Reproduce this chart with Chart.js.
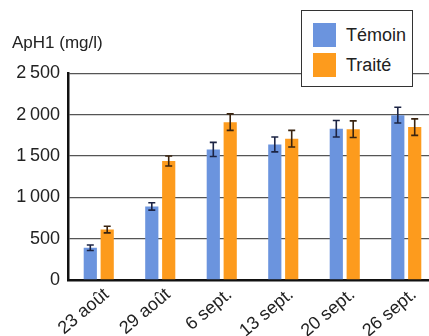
<!DOCTYPE html>
<html>
<head>
<meta charset="utf-8">
<script src="https://cdn.jsdelivr.net/npm/chart.js@4/dist/chart.umd.min.js"></script>
<style>
  html, body { margin: 0; padding: 0; background: #fff; overflow: hidden; }
  #wrap { position: relative; width: 440px; height: 336px; }
  #legend { position: absolute; left: 301px; top: 10px; width: 110px; height: 75px; border: 1px solid #333; background: #fff;
            font-family: "Liberation Sans", Arial, sans-serif; font-size: 18px; color: #222; }
  .item { position: absolute; left: 11px; height: 24px; }
  .sw { position: absolute; left: 0; top: 0; width: 23px; height: 24px; }
  .lb { position: absolute; left: 33px; top: 1px; white-space: nowrap; line-height: 22px; }
</style>
</head>
<body>
<div id="wrap">
  <canvas id="c" width="440" height="336"></canvas>
  <div id="legend"></div>
</div>
<script>
const categories = ["23 août", "29 août", "6 sept.", "13 sept.", "20 sept.", "26 sept."];
const seriesNames = ["Témoin", "Traité"];
const temoin = [390, 890, 1580, 1640, 1830, 1995];
const temoinErr = [33, 45, 85, 90, 100, 95];
const traite = [610, 1440, 1910, 1710, 1825, 1850];
const traiteErr = [40, 60, 100, 100, 100, 100];
const yTicks = [0, 500, 1000, 1500, 2000, 2500];
const yTitle = "ApH1 (mg/l)";

const colors = ["#6b94de", "#fd9b1d"];
const errColors = ["#1c2444", "#3a2410"];
const FONT = '"Liberation Sans", Arial, sans-serif';

const errorBars = {
  id: 'errorBars',
  afterDatasetsDraw(chart) {
    const ctx = chart.ctx;
    const ys = chart.scales.y;
    const errs = [temoinErr, traiteErr];
    chart.data.datasets.forEach((ds, di) => {
      const meta = chart.getDatasetMeta(di);
      meta.data.forEach((bar, i) => {
        const v = ds.data[i], e = errs[di][i];
        const yt = ys.getPixelForValue(v + e);
        const yb = ys.getPixelForValue(v - e);
        ctx.save();
        ctx.strokeStyle = errColors[di];
        ctx.lineWidth = 1.6;
        ctx.beginPath();
        ctx.moveTo(bar.x, yt); ctx.lineTo(bar.x, yb);
        ctx.moveTo(bar.x - 3.5, yt); ctx.lineTo(bar.x + 3.5, yt);
        ctx.moveTo(bar.x - 3.5, yb); ctx.lineTo(bar.x + 3.5, yb);
        ctx.stroke();
        ctx.restore();
      });
    });
  }
};

const chart = new Chart(document.getElementById('c'), {
  type: 'bar',
  data: {
    labels: categories,
    datasets: [
      { label: seriesNames[0], data: temoin, backgroundColor: colors[0], barPercentage: 0.78, categoryPercentage: 0.55 },
      { label: seriesNames[1], data: traite, backgroundColor: colors[1], barPercentage: 0.78, categoryPercentage: 0.55 }
    ]
  },
  options: {
    responsive: false,
    animation: false,
    layout: { padding: { left: 12, right: 3, top: 0, bottom: 0 } },
    plugins: {
      legend: { display: false },
      tooltip: { enabled: false },
      title: {
        display: true, text: yTitle, align: 'start', position: 'top',
        color: '#222', font: { family: FONT, size: 17, weight: 'normal' },
        padding: { top: 33, bottom: 20 }
      }
    },
    scales: {
      x: {
        grid: { display: false, drawTicks: false },
        border: { display: true, color: '#111', width: 2.5 },
        ticks: { color: '#222', font: { family: FONT, size: 18 }, minRotation: 40, maxRotation: 40, padding: 4, labelOffset: 8 },
        afterFit(s) { s.height = 56; }
      },
      y: {
        min: 0, max: 2500,
        afterBuildTicks(s) { s.ticks = yTicks.map(v => ({ value: v })); },
        grid: { color: '#555', lineWidth: 1.3, drawTicks: false },
        border: { display: true, color: '#111', width: 2.5 },
        ticks: {
          color: '#222', font: { family: FONT, size: 18 }, padding: 8,
          callback: v => v >= 1000 ? Math.floor(v / 1000) + '\u202F' + String(v % 1000).padStart(3, '0') : String(v)
        },
        afterFit(s) { s.width = 56; }
      }
    }
  },
  plugins: [errorBars]
});

const lg = document.getElementById('legend');
seriesNames.forEach((n, i) => {
  const it = document.createElement('div');
  it.className = 'item';
  it.style.top = (12 + i * 30) + 'px';
  it.innerHTML = '<div class="sw" style="background:' + colors[i] + '"></div><div class="lb">' + n + '</div>';
  lg.appendChild(it);
});
</script>
</body>
</html>
